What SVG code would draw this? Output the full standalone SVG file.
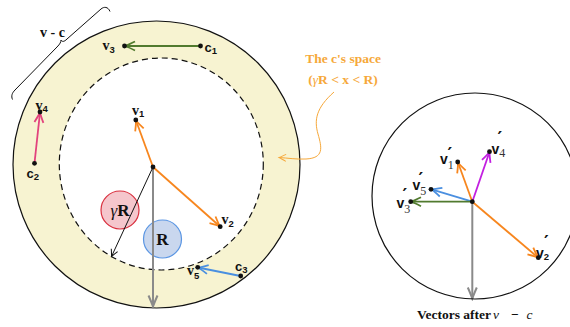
<svg xmlns="http://www.w3.org/2000/svg" width="570" height="327" viewBox="0 0 570 327">
<style>
.lv{font-family:"Liberation Serif","DejaVu Serif",serif;font-weight:bold;font-size:14px;fill:#111}
.lc{font-family:"Liberation Sans","DejaVu Sans",sans-serif;font-weight:bold;font-size:13px;fill:#111}
.sb{font-family:"Liberation Sans","DejaVu Sans",sans-serif;font-weight:bold;font-size:9.5px}
.rv{font-family:"Liberation Sans","DejaVu Sans",sans-serif;font-weight:bold;font-size:14px;fill:#111}
.rs{font-family:"Liberation Serif","DejaVu Serif",serif;font-weight:normal;font-size:12px;fill:#333}
.pr{font-family:"DejaVu Sans","Liberation Sans",sans-serif;font-weight:bold;font-size:18px;fill:#111}
.ann{font-family:"Liberation Serif","DejaVu Serif",serif;font-weight:bold;font-size:13.5px;fill:#f6a83a}
.cap{font-family:"Liberation Serif","DejaVu Serif",serif;font-weight:bold;font-size:13.5px;fill:#111}
.it{font-style:italic;font-weight:normal}
.dot{fill:#111}
.vec{fill:none;stroke-width:1.8}
</style>
<defs>
<marker id="mOr" markerUnits="userSpaceOnUse" markerWidth="14" markerHeight="12" viewBox="-11 -6 12 12" refX="0" refY="0" orient="auto"><path d="M-10,-4.5 Q-3,-1 0,0 Q-3,1 -10,4.5" fill="none" stroke="#f7861e" stroke-width="1.8"/></marker>
<marker id="mGr" markerUnits="userSpaceOnUse" markerWidth="14" markerHeight="12" viewBox="-11 -6 12 12" refX="0" refY="0" orient="auto"><path d="M-10,-4.5 Q-3,-1 0,0 Q-3,1 -10,4.5" fill="none" stroke="#517a2e" stroke-width="1.8"/></marker>
<marker id="mPk" markerUnits="userSpaceOnUse" markerWidth="14" markerHeight="12" viewBox="-11 -6 12 12" refX="0" refY="0" orient="auto"><path d="M-10,-4.5 Q-3,-1 0,0 Q-3,1 -10,4.5" fill="none" stroke="#e2437d" stroke-width="1.8"/></marker>
<marker id="mBl" markerUnits="userSpaceOnUse" markerWidth="14" markerHeight="12" viewBox="-11 -6 12 12" refX="0" refY="0" orient="auto"><path d="M-10,-4.5 Q-3,-1 0,0 Q-3,1 -10,4.5" fill="none" stroke="#4a8fe0" stroke-width="1.8"/></marker>
<marker id="mPu" markerUnits="userSpaceOnUse" markerWidth="14" markerHeight="12" viewBox="-11 -6 12 12" refX="0" refY="0" orient="auto"><path d="M-10,-4.5 Q-3,-1 0,0 Q-3,1 -10,4.5" fill="none" stroke="#c21fe0" stroke-width="1.8"/></marker>
<marker id="mGy" markerUnits="userSpaceOnUse" markerWidth="14" markerHeight="12" viewBox="-11 -6 12 12" refX="0" refY="0" orient="auto"><path d="M-11,-4.5 Q-3,-1 0,0 Q-3,1 -11,4.5" fill="none" stroke="#8a8a8a" stroke-width="2"/></marker>
<marker id="mBk" markerUnits="userSpaceOnUse" markerWidth="10" markerHeight="10" viewBox="-8 -5 9 10" refX="0" refY="0" orient="auto"><path d="M-7,-3.5 Q-2,-0.8 0,0 Q-2,0.8 -7,3.5" fill="none" stroke="#111" stroke-width="1"/></marker>
<marker id="mAn" markerUnits="userSpaceOnUse" markerWidth="10" markerHeight="10" viewBox="-8 -5 9 10" refX="0" refY="0" orient="auto"><path d="M-7,-3.5 Q-2,-0.8 0,0 Q-2,0.8 -7,3.5" fill="none" stroke="#f6a83a" stroke-width="1"/></marker>
</defs>

<g id="outer-space">
<circle cx="156.5" cy="164.5" r="143.5" fill="#f7f3d1" stroke="#111" stroke-width="1.2"/>
</g>
<g id="inner-space">
<ellipse cx="161.3" cy="164" rx="102" ry="106" fill="#ffffff" stroke="#111" stroke-width="1.2" stroke-dasharray="6 4"/>
</g>

<g id="brace">
<path d="M12.5,99.5 C11,96 12,93 15,90 L57,47 C60,44 61,42 61,40 C62,42 64,42 67,39 L101,9 C104,6.5 108,6.5 110,11.5" fill="none" stroke="#111" stroke-width="1"/>
<text x="40" y="37" class="lv" font-size="13">v - c</text>
</g>

<g id="gamma-R">
<circle cx="120" cy="210" r="19" fill="#f5c6cc" stroke="#d9303f" stroke-width="1.2"/>
<text x="120" y="216" text-anchor="middle" font-family="Liberation Serif, DejaVu Serif, serif" font-size="17" fill="#111"><tspan font-style="italic">γ</tspan><tspan font-weight="bold">R</tspan></text>
</g>
<g id="R">
<circle cx="162.5" cy="239" r="19" fill="#c9d7ee" stroke="#5b96e3" stroke-width="1.2"/>
<text x="162.5" y="245" text-anchor="middle" font-family="Liberation Serif, DejaVu Serif, serif" font-weight="bold" font-size="17" fill="#111">R</text>
</g>

<g id="connectors">
<line x1="153" y1="167" x2="153" y2="306.5" stroke="#8a8a8a" stroke-width="2" marker-end="url(#mGy)"/>
<line x1="153" y1="167" x2="111.5" y2="256.5" stroke="#111" stroke-width="1" marker-end="url(#mBk)"/>
<line class="vec" x1="153" y1="167" x2="136" y2="120.5" stroke="#f7861e" marker-end="url(#mOr)"/>
<line class="vec" x1="153" y1="167" x2="220" y2="226.5" stroke="#f7861e" marker-end="url(#mOr)"/>
<line class="vec" x1="200.5" y1="46" x2="125" y2="46" stroke="#517a2e" marker-end="url(#mGr)"/>
<line class="vec" x1="34.5" y1="163" x2="40" y2="112.5" stroke="#e2437d" marker-end="url(#mPk)"/>
<line class="vec" x1="240.5" y1="276" x2="198" y2="267.5" stroke="#4a8fe0" marker-end="url(#mBl)"/>
<path d="M334,92 C316,108 314,120 318,134 C322,148 324,158 306,159 C296,159.5 288,158 279,157.5" fill="none" stroke="#f6a83a" stroke-width="1" marker-end="url(#mAn)"/>
<line x1="472.3" y1="201.7" x2="472.3" y2="298.5" stroke="#8a8a8a" stroke-width="2" marker-end="url(#mGy)"/>
<line class="vec" x1="472.3" y1="201.7" x2="458" y2="162.5" stroke="#f7861e" marker-end="url(#mOr)"/>
<line class="vec" x1="472.3" y1="201.7" x2="538" y2="257.5" stroke="#f7861e" marker-end="url(#mOr)"/>
<line class="vec" x1="472.3" y1="201.7" x2="489.5" y2="152" stroke="#c21fe0" marker-end="url(#mPu)"/>
<line class="vec" x1="472.3" y1="201.7" x2="431.5" y2="189.3" stroke="#4a8fe0" marker-end="url(#mBl)"/>
<line class="vec" x1="472.3" y1="201.7" x2="411" y2="201.7" stroke="#517a2e" marker-end="url(#mGr)"/>
</g>

<g id="center-point"><circle class="dot" cx="153" cy="167" r="2.4"/></g>

<g id="v3"><circle class="dot" cx="124.5" cy="46" r="2.4"/><text x="102.5" y="50" class="lv">v<tspan class="sb" dy="3">3</tspan></text></g>
<g id="c1"><circle class="dot" cx="200.5" cy="46" r="2.4"/><text x="204.5" y="52" class="lc">c<tspan class="sb" dy="2">1</tspan></text></g>
<g id="v4"><circle class="dot" cx="40" cy="112" r="2.4"/><text x="35.5" y="110" class="lv">v<tspan class="sb" dy="2">4</tspan></text></g>
<g id="c2"><circle class="dot" cx="34.5" cy="163.3" r="2.4"/><text x="26.5" y="178" class="lc">c<tspan class="sb" dy="2">2</tspan></text></g>
<g id="v1"><circle class="dot" cx="135.8" cy="120" r="2.4"/><text x="132" y="115" class="lv">v<tspan class="sb" dy="2">1</tspan></text></g>
<g id="v2"><circle class="dot" cx="220.2" cy="226.7" r="2.4"/><text x="221.5" y="224" class="lv">v<tspan class="sb" dy="3">2</tspan></text></g>
<g id="v5"><circle class="dot" cx="197.7" cy="267.3" r="2.4"/><text x="187" y="275" class="lv">v<tspan class="sb" dy="4">5</tspan></text></g>
<g id="c3"><circle class="dot" cx="240.7" cy="276" r="2.4"/><text x="235" y="271" class="lc">c<tspan class="sb" dy="2">3</tspan></text></g>

<g id="annotation">
<text x="343" y="63" class="ann" text-anchor="middle">The c's space</text>
<text x="343" y="84" class="ann" text-anchor="middle">(<tspan class="it">γ</tspan>R &lt; x &lt; R)</text>
</g>

<g id="after-space">
<circle cx="475" cy="196" r="103" fill="none" stroke="#111" stroke-width="1.2"/>
<circle class="dot" cx="472.3" cy="201.7" r="2.4"/>
</g>
<g id="v1p"><circle class="dot" cx="457.7" cy="162" r="2.4"/><text x="440" y="164.3" class="rv">v<tspan class="rs" dy="5">1</tspan></text><text x="447.5" y="159.8" class="pr">′</text></g>
<g id="v4p"><circle class="dot" cx="489.5" cy="151.7" r="2.4"/><text x="491.5" y="153.7" class="rv">v<tspan class="rs" dy="3">4</tspan></text><text x="497.5" y="144.1" class="pr">′</text></g>
<g id="v5p"><circle class="dot" cx="431" cy="189.3" r="2.4"/><text x="412.5" y="190.3" class="rv">v<tspan class="rs" dy="5">5</tspan></text><text x="418.5" y="184.8" class="pr">′</text></g>
<g id="v3p"><circle class="dot" cx="410.7" cy="201.7" r="2.4"/><text x="396.5" y="208.3" class="rv">v<tspan class="rs" dy="5">3</tspan></text><text x="402.5" y="201.1" class="pr">′</text></g>
<g id="v2p"><circle class="dot" cx="538.3" cy="257.7" r="2.4"/><text x="536" y="257.7" class="rv">v<tspan class="sb" dy="2" fill="#111" font-size="11">2</tspan></text><text x="544" y="248.1" class="pr">′</text></g>

<g id="caption">
<text x="417" y="319" class="cap">Vectors after</text>
<text x="493" y="319" class="cap it">v</text>
<text x="511" y="319" class="cap" font-weight="normal">−</text>
<text x="526.5" y="319" class="cap it">c</text>
</g>
</svg>
